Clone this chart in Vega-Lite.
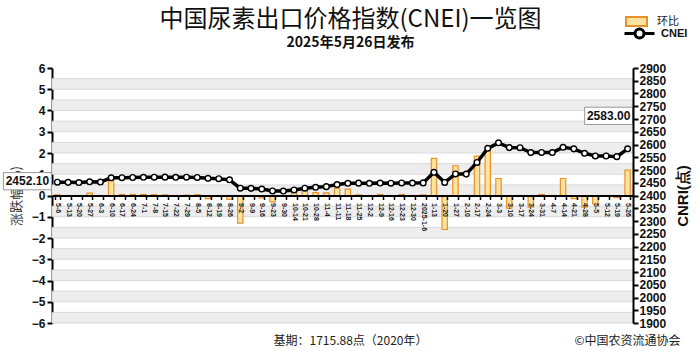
{
  "$schema": "https://vega.github.io/schema/vega-lite/v6.json",
  "width": 581,
  "height": 255,
  "autosize": {"type": "none"},
  "padding": {"left": 52, "top": 68, "right": 67, "bottom": 28},
  "background": "white",
  "config": {"view": {"stroke": null}},
  "title": {
    "text": "中国尿素出口价格指数(CNEI)一览图",
    "subtitle": "2025年5月26日发布",
    "anchor": "middle",
    "dx": 8,
    "offset": -40,
    "font": "Noto Sans CJK SC",
    "fontSize": 24,
    "fontWeight": "normal",
    "color": "#111",
    "subtitleFont": "Noto Sans CJK SC",
    "subtitleFontSize": 14,
    "subtitleFontWeight": "bold",
    "subtitleColor": "#111",
    "subtitlePadding": 4
  },
  "datasets": {
    "main": [
      {"d": "5-6", "cnei": 2452.10, "chg": 0.03},
      {"d": "5-13", "cnei": 2451.5, "chg": -0.02},
      {"d": "5-20", "cnei": 2450.9, "chg": -0.02},
      {"d": "5-27", "cnei": 2453.6, "chg": 0.11},
      {"d": "6-3", "cnei": 2452.8, "chg": -0.03},
      {"d": "6-10", "cnei": 2469.3, "chg": 0.7},
      {"d": "6-17", "cnei": 2469.9, "chg": 0.05},
      {"d": "6-24", "cnei": 2470.6, "chg": 0.05},
      {"d": "7-1", "cnei": 2471.3, "chg": 0.05},
      {"d": "7-8", "cnei": 2471.8, "chg": 0.04},
      {"d": "7-15", "cnei": 2472.0, "chg": 0.03},
      {"d": "7-22", "cnei": 2471.5, "chg": -0.02},
      {"d": "7-29", "cnei": 2471.9, "chg": 0.02},
      {"d": "8-5", "cnei": 2470.8, "chg": 0.04},
      {"d": "8-12", "cnei": 2467.2, "chg": -0.15},
      {"d": "8-19", "cnei": 2466.0, "chg": -0.05},
      {"d": "8-26", "cnei": 2461.5, "chg": -0.18},
      {"d": "9-2", "cnei": 2428.6, "chg": -1.3},
      {"d": "9-9", "cnei": 2428.0, "chg": -0.02},
      {"d": "9-16", "cnei": 2425.3, "chg": -0.11},
      {"d": "9-23", "cnei": 2418.0, "chg": -0.3},
      {"d": "9-30", "cnei": 2417.6, "chg": -0.02},
      {"d": "10-14", "cnei": 2421.9, "chg": 0.18},
      {"d": "10-21", "cnei": 2428.5, "chg": 0.27},
      {"d": "10-28", "cnei": 2432.0, "chg": 0.14},
      {"d": "11-4", "cnei": 2434.8, "chg": 0.12},
      {"d": "11-11", "cnei": 2443.0, "chg": 0.34},
      {"d": "11-18", "cnei": 2447.9, "chg": 0.3},
      {"d": "11-25", "cnei": 2448.5, "chg": 0.03},
      {"d": "12-2", "cnei": 2447.8, "chg": -0.03},
      {"d": "12-9", "cnei": 2448.9, "chg": 0.05},
      {"d": "12-16", "cnei": 2448.2, "chg": -0.03},
      {"d": "12-23", "cnei": 2449.4, "chg": 0.05},
      {"d": "12-30", "cnei": 2448.8, "chg": -0.02},
      {"d": "2025-1-6", "cnei": 2449.5, "chg": 0.03},
      {"d": "1-13", "cnei": 2491.0, "chg": 1.75},
      {"d": "1-20", "cnei": 2451.2, "chg": -1.6},
      {"d": "1-27", "cnei": 2484.6, "chg": 1.4},
      {"d": "2-10", "cnei": 2483.9, "chg": -0.03},
      {"d": "2-17", "cnei": 2529.5, "chg": 1.85},
      {"d": "2-24", "cnei": 2585.0, "chg": 2.1},
      {"d": "3-3", "cnei": 2606.5, "chg": 0.8},
      {"d": "3-10", "cnei": 2587.8, "chg": -0.6},
      {"d": "3-17", "cnei": 2587.5, "chg": -0.01},
      {"d": "3-24", "cnei": 2568.2, "chg": -0.55},
      {"d": "3-31", "cnei": 2568.9, "chg": 0.05},
      {"d": "4-7", "cnei": 2568.5, "chg": -0.02},
      {"d": "4-14", "cnei": 2589.0, "chg": 0.8},
      {"d": "4-21", "cnei": 2582.9, "chg": -0.15},
      {"d": "4-28", "cnei": 2565.6, "chg": -0.55},
      {"d": "5-5", "cnei": 2555.2, "chg": -0.4},
      {"d": "5-12", "cnei": 2554.9, "chg": -0.01},
      {"d": "5-19", "cnei": 2552.4, "chg": -0.1},
      {"d": "5-26", "cnei": 2583.00, "chg": 1.2}
    ],
    "bands": [
      {"lo": -6, "hi": -5.5}, {"lo": -5, "hi": -4.5}, {"lo": -4, "hi": -3.5},
      {"lo": -3, "hi": -2.5}, {"lo": -2, "hi": -1.5}, {"lo": -1, "hi": -0.5},
      {"lo": 0, "hi": 0.5}, {"lo": 1, "hi": 1.5}, {"lo": 2, "hi": 2.5},
      {"lo": 3, "hi": 3.5}, {"lo": 4, "hi": 4.5}, {"lo": 5, "hi": 5.5}
    ]
  },
  "resolve": {"scale": {"y": "independent"}, "axis": {"x": "independent"}},
  "layer": [
    {
      "layer": [
        {
          "data": {"name": "bands"},
          "mark": {"type": "rect", "fill": "#ededed", "stroke": "#d2d2d2", "strokeWidth": 0.8},
          "encoding": {
            "y": {
              "field": "lo", "type": "quantitative", "scale": {"domain": [-6, 6], "nice": false},
              "axis": {
                "orient": "left", "format": "d", "values": [-6, -5, -4, -3, -2, -1, 0, 1, 2, 3, 4, 5, 6], "tickCount": 30, "zindex": 0,
                "grid": false, "domainColor": "#000", "domainWidth": 2,
                "tickColor": "#000", "tickWidth": 2, "tickSize": 5,
                "labelFont": "Liberation Sans", "labelFontSize": 12, "labelFontWeight": "bold", "labelColor": "#111", "labelPadding": 2,
                "title": "涨跌幅(%)", "titleFont": "Noto Sans CJK SC", "titleFontSize": 13, "titleFontWeight": "normal",
                "titleColor": "#333", "titlePadding": 8
              }
            },
            "y2": {"field": "hi"}
          }
        },
        {
          "data": {"name": "main"},
          "mark": {"type": "bar", "stroke": "#e8902a", "strokeWidth": 1.2},
          "encoding": {
            "x": {
              "field": "d", "type": "ordinal", "sort": null,
              "scale": {"paddingInner": 0.5, "paddingOuter": 0.25},
              "axis": {
                "orient": "bottom", "offset": -127.5, "zindex": 1,
                "labelAngle": 90, "labelFont": "Liberation Sans", "labelFontSize": 7, "labelFontWeight": "bold",
                "labelColor": "#222", "labelPadding": 3,
                "tickBand": "extent", "tickSize": 4, "tickColor": "#000", "tickWidth": 1.5,
                "domainColor": "#000", "domainWidth": 2,
                "title": "基期：1715.88点（2020年）",
                "titleFont": "Noto Sans CJK SC", "titleFontSize": 12, "titleFontWeight": "normal", "titleColor": "#222",
                "titleX": 298, "titleY": 145, "titleBaseline": "middle", "titleAnchor": "middle"
              }
            },
            "y": {
              "field": "chg", "type": "quantitative",
              "scale": {"domain": [-6, 6], "nice": false},
              "axis": {
                "orient": "left", "format": "d", "values": [-6, -5, -4, -3, -2, -1, 0, 1, 2, 3, 4, 5, 6], "tickCount": 30, "zindex": 0,
                "grid": false, "domainColor": "#000", "domainWidth": 2,
                "tickColor": "#000", "tickWidth": 2, "tickSize": 5,
                "labelFont": "Liberation Sans", "labelFontSize": 12, "labelFontWeight": "bold", "labelColor": "#111", "labelPadding": 2,
                "title": "涨跌幅(%)", "titleFont": "Noto Sans CJK SC", "titleFontSize": 13, "titleFontWeight": "normal",
                "titleColor": "#333", "titlePadding": 8
              }
            },
            "fill": {
              "datum": "环比", "type": "nominal",
              "scale": {"range": ["#fbe3a0"]},
              "legend": {
                "orient": "none", "legendX": 573, "legendY": -58, "title": null,
                "symbolType": "M-1,-0.42H1V0.42H-1Z", "symbolSize": 440,
                "symbolStrokeColor": "#e8902a", "symbolStrokeWidth": 2,
                "labelFont": "Noto Sans CJK SC", "labelFontSize": 11, "labelColor": "#222", "labelOffset": 9
              }
            }
          }
        }
      ]
    },
    {
      "data": {"name": "main"},
      "layer": [
        {
          "mark": {"type": "line", "strokeWidth": 3.5},
          "encoding": {
            "x": {
              "field": "d", "type": "ordinal", "sort": null,
              "scale": {"paddingInner": 0.5, "paddingOuter": 0.25},
              "axis": {
                "orient": "bottom", "labels": false, "ticks": false, "domain": false, "grid": false,
                "title": "©中国农资流通协会",
                "titleFont": "Noto Sans CJK SC", "titleFontSize": 12, "titleFontWeight": "normal", "titleColor": "#222",
                "titleX": 575, "titleY": 17, "titleBaseline": "middle", "titleAnchor": "middle"
              }
            },
            "y": {
              "field": "cnei", "type": "quantitative",
              "scale": {"domain": [1900, 2900], "nice": false, "zero": false},
              "axis": {
                "orient": "right", "format": "d", "labelOverlap": false, "tickCount": 50,
                "values": [1900, 1950, 2000, 2050, 2100, 2150, 2200, 2250, 2300, 2350, 2400, 2450, 2500, 2550, 2600, 2650, 2700, 2750, 2800, 2850, 2900],
                "zindex": 1, "grid": false, "domainColor": "#000", "domainWidth": 2,
                "tickColor": "#000", "tickWidth": 2, "tickSize": 5,
                "labelFont": "Liberation Sans", "labelFontSize": 12, "labelFontWeight": "bold", "labelColor": "#111", "labelPadding": 1,
                "title": "CNRI(点)", "titleAngle": -90, "titleFont": "Liberation Sans", "titleFontSize": 15, "titleFontWeight": "bold",
                "titleColor": "#111", "titleX": 49, "titleY": 127.5, "titleAlign": "center", "titleBaseline": "middle"
              }
            },
            "stroke": {
              "datum": "CNEI", "type": "nominal",
              "scale": {"range": ["#000000"]},
              "legend": {
                "orient": "none", "legendX": 571, "legendY": -51, "title": null,
                "symbolType": "M-1,0L-0.3,0M0.3,0L1,0M-0.3,0A0.3,0.3,0,1,1,0.3,0A0.3,0.3,0,1,1,-0.3,0Z",
                "symbolSize": 900, "symbolStrokeWidth": 3, "symbolFillColor": "white",
                "labelFont": "Liberation Sans", "labelFontSize": 11, "labelFontWeight": "bold", "labelColor": "#111", "labelOffset": 5
              }
            }
          }
        },
        {
          "mark": {"type": "point", "filled": true, "fill": "white", "stroke": "#000", "strokeWidth": 1.4, "size": 32, "opacity": 1},
          "encoding": {
            "x": {"field": "d", "type": "ordinal", "sort": null},
            "y": {"field": "cnei", "type": "quantitative"}
          }
        },
        {
          "transform": [{"filter": "datum.d === '5-6'"}],
          "layer": [
            {
              "mark": {"type": "point", "shape": "M-1,-0.36H1V0.36H-1Z", "size": 2300, "filled": true, "fill": "white", "stroke": "#999", "strokeWidth": 1, "opacity": 1, "xOffset": -30, "yOffset": -1},
              "encoding": {"x": {"field": "d", "type": "ordinal", "sort": null}, "y": {"field": "cnei", "type": "quantitative"}}
            },
            {
              "mark": {"type": "text", "font": "Liberation Sans", "fontSize": 12, "fontWeight": "bold", "color": "#111", "align": "center", "baseline": "middle", "xOffset": -30, "yOffset": -1},
              "encoding": {"x": {"field": "d", "type": "ordinal", "sort": null}, "y": {"field": "cnei", "type": "quantitative"}, "text": {"field": "cnei", "type": "quantitative", "format": ".2f"}}
            }
          ]
        },
        {
          "transform": [{"filter": "datum.d === '5-26'"}],
          "layer": [
            {
              "mark": {"type": "point", "shape": "M-1,-0.36H1V0.36H-1Z", "size": 2300, "filled": true, "fill": "white", "stroke": "#999", "strokeWidth": 1, "opacity": 1, "xOffset": -19, "yOffset": -33},
              "encoding": {"x": {"field": "d", "type": "ordinal", "sort": null}, "y": {"field": "cnei", "type": "quantitative"}}
            },
            {
              "mark": {"type": "text", "font": "Liberation Sans", "fontSize": 12, "fontWeight": "bold", "color": "#111", "align": "center", "baseline": "middle", "xOffset": -19, "yOffset": -33},
              "encoding": {"x": {"field": "d", "type": "ordinal", "sort": null}, "y": {"field": "cnei", "type": "quantitative"}, "text": {"field": "cnei", "type": "quantitative", "format": ".2f"}}
            }
          ]
        }
      ]
    }
  ]
}
